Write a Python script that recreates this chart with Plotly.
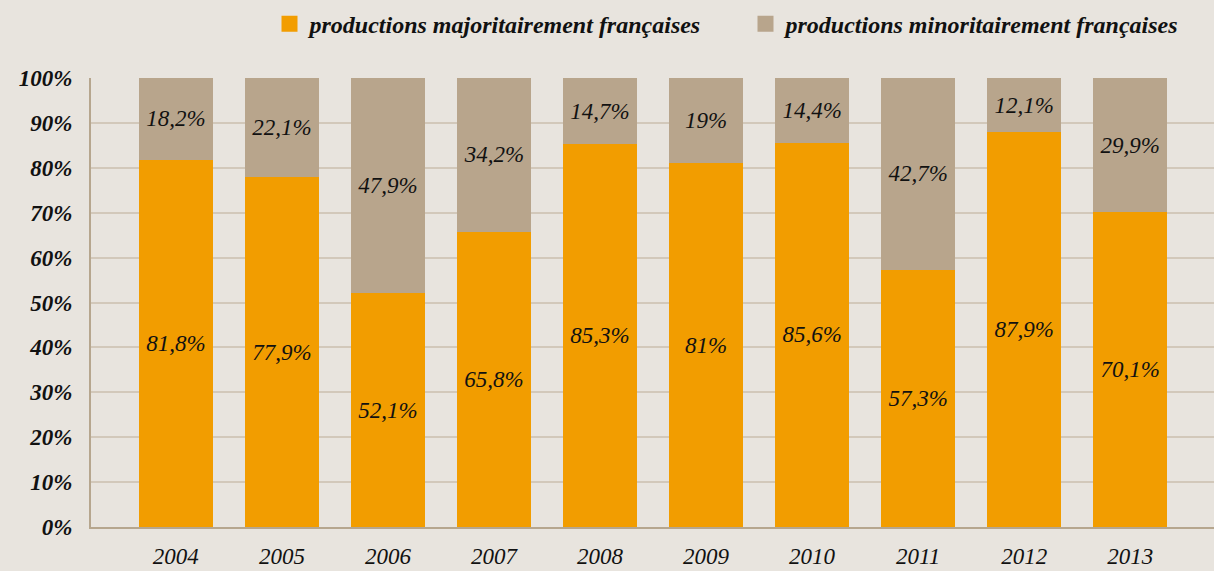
import plotly.graph_objects as go

years = ["2004", "2005", "2006", "2007", "2008", "2009", "2010", "2011", "2012", "2013"]
majoritaire = [81.8, 77.9, 52.1, 65.8, 85.3, 81, 85.6, 57.3, 87.9, 70.1]
minoritaire = [18.2, 22.1, 47.9, 34.2, 14.7, 19, 14.4, 42.7, 12.1, 29.9]
series_names = ["productions majoritairement françaises", "productions minoritairement françaises"]
y_ticks = [0, 10, 20, 30, 40, 50, 60, 70, 80, 90, 100]

ORANGE = "#F29D00"
TAN = "#B8A58C"
BG = "#E8E4DE"
GRID = "#D2C8BA"
AXIS = "#B6A68E"
FONT = "Liberation Serif, Times New Roman, serif"


def fmt(v):
    return f"{v:g}".replace(".", ",") + "%"


fig = go.Figure()
for vals, color in ((majoritaire, ORANGE), (minoritaire, TAN)):
    fig.add_trace(go.Bar(
        x=list(range(len(years))), y=vals,
        marker=dict(color=color, line=dict(width=0)),
        width=0.70,
        text=[fmt(v) for v in vals],
        textposition="inside", insidetextanchor="middle",
        textangle=0, constraintext="none",
        textfont=dict(family=FONT, size=23, color="#111111", style="italic"),
        showlegend=False, hoverinfo="skip",
    ))

# legend entries with larger square swatches
for name, color in zip(series_names, (ORANGE, TAN)):
    fig.add_trace(go.Scatter(
        x=[None], y=[None], mode="markers", name=name,
        marker=dict(symbol="square", size=19, color=color),
    ))

fig.update_layout(
    barmode="stack",
    width=1214, height=571,
    paper_bgcolor=BG, plot_bgcolor=BG,
    margin=dict(l=91, r=0, t=78, b=44, autoexpand=False),
    font=dict(family=FONT, color="#111111"),
    legend=dict(
        orientation="h", xref="container", x=0.222, xanchor="left",
        yref="container", y=0.997, yanchor="top",
        font=dict(family=FONT, size=24, style="italic", weight="bold"),
        itemsizing="trace", itemwidth=30, traceorder="normal",
        entrywidth=431, entrywidthmode="pixels",
        bgcolor="rgba(0,0,0,0)",
    ),
    xaxis=dict(
        tickmode="array", tickvals=list(range(len(years))), ticktext=years,
        range=[-0.80, 9.79], automargin=False,
        showgrid=False, zeroline=False,
        showline=True, linecolor=AXIS, linewidth=2,
        ticks="", ticklabelstandoff=7,
        tickfont=dict(family=FONT, size=23, style="italic"),
    ),
    yaxis=dict(
        range=[0, 100], tickmode="array", tickvals=y_ticks, automargin=False,
        ticktext=[f"{t}%" for t in y_ticks],
        showgrid=True, gridcolor=GRID, gridwidth=2,
        zeroline=False,
        showline=True, linecolor=AXIS, linewidth=2,
        ticks="", ticklabelstandoff=12,
        tickfont=dict(family=FONT, size=23, style="italic", weight="bold"),
    ),
)

fig.write_html("out.html", config={"displayModeBar": False},
               post_script="document.body.style.margin='0';")
